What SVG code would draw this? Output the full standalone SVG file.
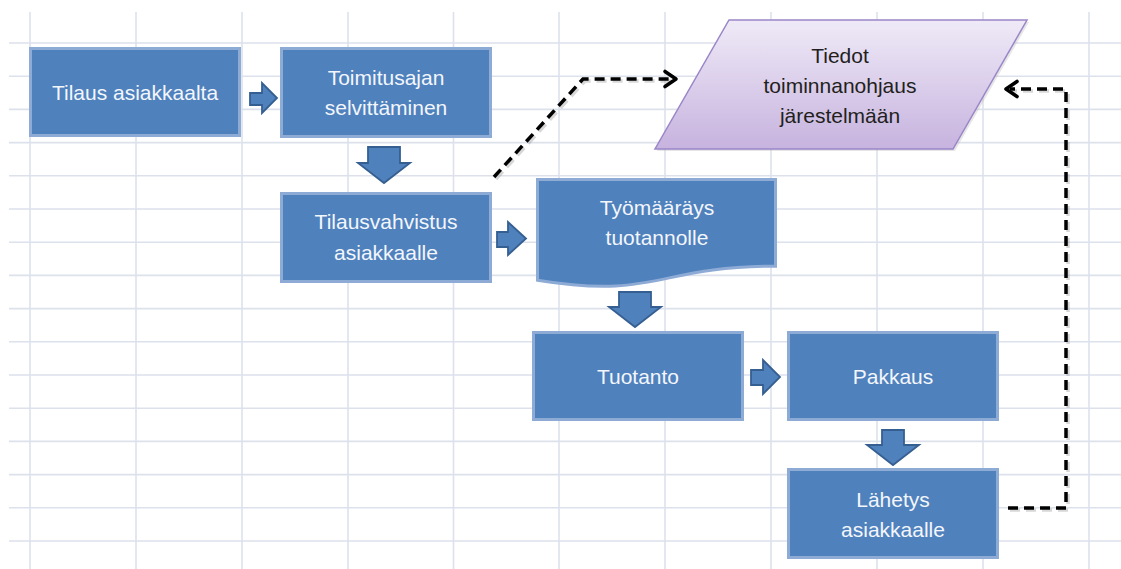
<svg xmlns="http://www.w3.org/2000/svg" width="1121" height="569" viewBox="0 0 1121 569">
  <style>
    .grid line { stroke: #dce1ec; stroke-width: 1.6; }
    .box { fill: #4f81bd; stroke: #8eabd6; stroke-width: 3; }
    .blk { fill: #4f81bd; stroke: #365f91; stroke-width: 1.8; stroke-linejoin: miter; }
    .lbl { font-family: "Liberation Sans", Arial, sans-serif; font-size: 21px; fill: #f3f6fb; text-anchor: middle; }
    .lbl-dark { font-family: "Liberation Sans", Arial, sans-serif; font-size: 21px; fill: #231f20; text-anchor: middle; }
    .dash { fill: none; stroke: #000; stroke-width: 3.5; stroke-dasharray: 10 6; }
    .dash-shadow { fill: none; stroke: #9a9a9a; stroke-width: 3.5; stroke-dasharray: 10 6; opacity: 0.4; }
    .head { fill: none; stroke: #000; stroke-width: 3.6; stroke-linecap: round; stroke-linejoin: round; }
  </style>
  <defs>
    <linearGradient id="violet" x1="0" y1="0" x2="0" y2="1">
      <stop offset="0" stop-color="#efeaf7"/>
      <stop offset="1" stop-color="#c7b3df"/>
    </linearGradient>
  </defs>

  <rect width="1121" height="569" fill="#ffffff"/>

  <!-- spreadsheet grid -->
  <g class="grid">
    <line x1="30" y1="12" x2="30" y2="569"/>
    <line x1="136" y1="12" x2="136" y2="569"/>
    <line x1="242" y1="12" x2="242" y2="569"/>
    <line x1="348" y1="12" x2="348" y2="569"/>
    <line x1="453.5" y1="12" x2="453.5" y2="569"/>
    <line x1="559" y1="12" x2="559" y2="569"/>
    <line x1="665" y1="12" x2="665" y2="569"/>
    <line x1="771" y1="12" x2="771" y2="569"/>
    <line x1="877" y1="12" x2="877" y2="569"/>
    <line x1="983" y1="12" x2="983" y2="569"/>
    <line x1="1089" y1="12" x2="1089" y2="569"/>
    <line x1="9" y1="43" x2="1121" y2="43"/>
    <line x1="9" y1="76.2" x2="1121" y2="76.2"/>
    <line x1="9" y1="109.4" x2="1121" y2="109.4"/>
    <line x1="9" y1="142.6" x2="1121" y2="142.6"/>
    <line x1="9" y1="175.8" x2="1121" y2="175.8"/>
    <line x1="9" y1="209" x2="1121" y2="209"/>
    <line x1="9" y1="242.2" x2="1121" y2="242.2"/>
    <line x1="9" y1="275.4" x2="1121" y2="275.4"/>
    <line x1="9" y1="308.6" x2="1121" y2="308.6"/>
    <line x1="9" y1="341.8" x2="1121" y2="341.8"/>
    <line x1="9" y1="375" x2="1121" y2="375"/>
    <line x1="9" y1="408.2" x2="1121" y2="408.2"/>
    <line x1="9" y1="441.4" x2="1121" y2="441.4"/>
    <line x1="9" y1="474.6" x2="1121" y2="474.6"/>
    <line x1="9" y1="507.8" x2="1121" y2="507.8"/>
    <line x1="9" y1="541" x2="1121" y2="541"/>
  </g>

  <!-- connectors: block arrows and dashed data lines -->
  <g id="connectors">
    <polygon class="blk" points="250,93 262,93 262,83 277,98 262,113 262,105 250,105"/>
    <polygon class="blk" points="368,147 400,147 400,163 410,163 384,183 358,163 368,163"/>
    <polygon class="blk" points="497,232 508,232 508,222 526,238.5 508,255 508,247 497,247"/>
    <polygon class="blk" points="619,292 651,292 651,307 661,307 635,327 609,307 619,307"/>
    <polygon class="blk" points="751,370 763,370 763,360 780,377 763,394 763,385 751,385"/>
    <polygon class="blk" points="882,430 904,430 904,445 919,445 893,465 867,445 882,445"/>

    <path class="dash-shadow" d="M496,179 L585,81 L672,81"/>
    <path class="dash" d="M494,177 L583,79 L672,79"/>
    <polyline class="head" points="665,71.5 676,79 665,86.5"/>

    <path class="dash-shadow" d="M1010,510 L1068,510 L1068,91 L1012,91"/>
    <path class="dash" d="M1008,508 L1066,508 L1066,89 L1010,89"/>
    <polyline class="head" points="1017,81.5 1006,89 1017,96.5"/>
  </g>

  <g id="tilaus-asiakkaalta">
    <rect class="box" x="30.5" y="48.5" width="209" height="87"/>
    <text class="lbl" x="135" y="100">Tilaus asiakkaalta</text>
  </g>

  <g id="toimitusajan-selvittaminen">
    <rect class="box" x="281.5" y="48.5" width="209" height="88"/>
    <text class="lbl" x="386" y="85">Toimitusajan</text>
    <text class="lbl" x="386" y="115">selvittäminen</text>
  </g>

  <g id="tilausvahvistus">
    <rect class="box" x="281.5" y="193.5" width="209" height="88"/>
    <text class="lbl" x="386" y="229">Tilausvahvistus</text>
    <text class="lbl" x="386" y="260">asiakkaalle</text>
  </g>

  <g id="tyomaarays">
    <path class="box" d="M537.5,179.5 H775.5 V266.2 C656.5,266.2 656.5,299.8 537.5,280.2 Z"/>
    <text class="lbl" x="657" y="215">Työmääräys</text>
    <text class="lbl" x="657" y="245">tuotannolle</text>
  </g>

  <g id="tuotanto">
    <rect class="box" x="533.5" y="332.5" width="209" height="87"/>
    <text class="lbl" x="638" y="384">Tuotanto</text>
  </g>

  <g id="pakkaus">
    <rect class="box" x="788.5" y="332.5" width="209" height="87"/>
    <text class="lbl" x="893" y="384">Pakkaus</text>
  </g>

  <g id="lahetys">
    <rect class="box" x="788.5" y="469.5" width="209" height="88"/>
    <text class="lbl" x="893" y="507">Lähetys</text>
    <text class="lbl" x="893" y="537">asiakkaalle</text>
  </g>

  <g id="tiedot-toiminnanohjaus">
    <polygon points="731,22 1029,22 955,151 657,151" fill="#b8b8b8" opacity="0.35"/>
    <polygon points="729,20 1027,20 953,149 655,149" fill="url(#violet)" stroke="#9a86c8" stroke-width="1.5"/>
    <text class="lbl-dark" x="840" y="63">Tiedot</text>
    <text class="lbl-dark" x="840" y="93">toiminnanohjaus</text>
    <text class="lbl-dark" x="840" y="123">järestelmään</text>
  </g>
</svg>
